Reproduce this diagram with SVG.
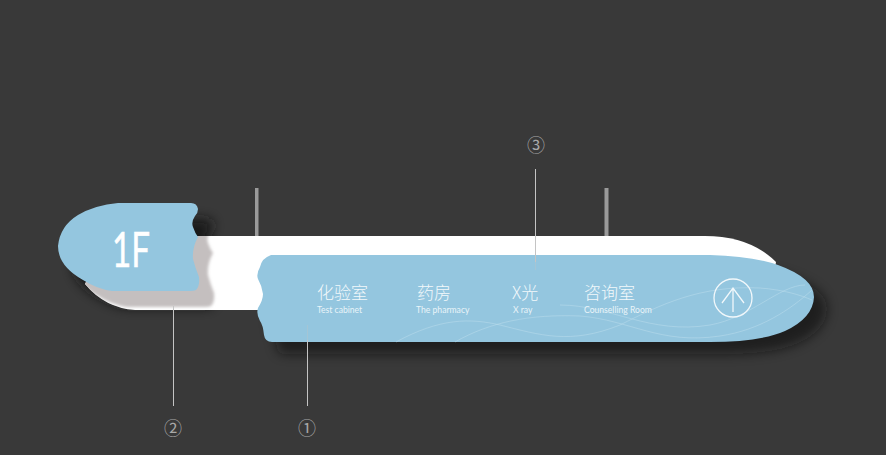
<svg xmlns="http://www.w3.org/2000/svg" width="886" height="455" viewBox="0 0 886 455">
<style>
.blue{fill:#94c6df}
.stem{fill:#9a9a9a}
.cn{font-family:"Noto Sans CJK SC","Noto Sans",sans-serif;font-size:17px;font-weight:300;fill:#f2f8fb}
.en{font-family:"Lato","Liberation Sans",sans-serif;font-size:8.6px;font-weight:400;fill:#e9f4f9}
.num{font-family:"Noto Sans CJK SC","DejaVu Sans",sans-serif;font-size:18px;fill:#a8a8a8;text-anchor:middle}
.lead{stroke:#c4c4c4;stroke-width:1;fill:none}
.wave{stroke:#c4e0ee;stroke-width:.8;fill:none;opacity:.55}
</style>
<defs>
<filter id="b6" x="-20%" y="-40%" width="140%" height="180%"><feGaussianBlur stdDeviation="6"/></filter>
<filter id="b2" x="-20%" y="-40%" width="140%" height="180%"><feGaussianBlur stdDeviation="1.800"/></filter>
<path id="tag" d="M118 203H191Q197 203 198 209Q198 213 195 216Q191 222 193 227Q195 233 198 237Q192 248 193 259Q195 267 199 277Q200 286 196 290Q194 291 188 291H112Q97 289 83 280Q58 266 58 246Q60 226 78 215Q95 205 118 203Z"/>
<path id="main" d="M271 255H710Q752 256 778 265Q814 278 814 297Q813 318 785 331Q760 342 710 342H272Q265 342 264 335Q263 325 260 321Q256 314 258 308Q263 300 263 294Q262 286 258 279Q256 274 260 267Q262 258 271 255Z"/>
<clipPath id="barclip"><path d="M135 236H705Q750 236 776 262V310H135Q105 308 85 284L110 236Z"/></clipPath>
</defs>
<rect width="886" height="455" fill="#393939"/>
<g id="posts"><rect class="stem" x="255" y="188" width="3.500" height="48"/><rect class="stem" x="604.500" y="188" width="4" height="48"/></g>
<g id="back-shadow"><use href="#main" x="13" y="12" fill="#111" filter="url(#b6)" opacity=".6"/><use href="#tag" x="15" y="16" fill="#151515" filter="url(#b6)" opacity=".9"/></g>
<g id="white-bar">
<path d="M135 236H705Q750 236 776 262L770 300L300 310H135Q105 308 85 284L110 236Z" fill="#fff"/>
<g clip-path="url(#barclip)"><use href="#tag" x="15" y="16" fill="#c4bfbf" filter="url(#b2)"/></g>
</g>
<g id="tag-1f">
<use href="#tag" class="blue"/>
<text x="112" y="267" font-family="Lato,'Liberation Sans',sans-serif" font-size="48" fill="#fff" stroke="#fff" stroke-width=".5" textLength="38" lengthAdjust="spacingAndGlyphs">1F</text>
</g>
<g id="main-sign">
<use href="#main" class="blue"/>
<path class="wave" d="M396 342C440 318 470 318 500 325C540 335 570 345 620 325C660 305 700 285 760 288C785 290 800 295 812 300"/>
<path class="wave" d="M455 342C490 322 530 314 580 316C630 320 660 345 720 336C760 330 790 310 812 290"/>
<path class="wave" d="M560 305C610 305 650 335 710 325C750 318 780 285 805 285"/>
<g id="item-test"><text class="cn" x="317" y="299">化验室</text><text class="en" x="317" y="313">Test cabinet</text></g>
<g id="item-pharmacy"><text class="cn" x="417" y="299">药房</text><text class="en" x="416" y="313">The pharmacy</text></g>
<g id="item-xray"><text class="cn" x="512" y="299">X光</text><text class="en" x="513" y="313">X ray</text></g>
<g id="item-counselling"><text class="cn" x="584" y="299">咨询室</text><text class="en" x="584" y="313">Counselling Room</text></g>
<g id="arrow-up" fill="none" stroke="#f2f8fb" stroke-width="1.300"><circle cx="733" cy="298" r="19"/><path d="M722 303L733 288L744 303M733 288V312"/></g>
</g>
<g id="connectors">
<path class="lead" d="M173.500 306V406"/>
<path class="lead" d="M307.500 340V406"/>
<path class="lead" d="M307.500 325V340" opacity=".35"/>
<path class="lead" d="M535.500 169V262"/>
<path class="lead" d="M535.500 262V270" opacity=".35"/>
</g>
<g id="callouts">
<text class="num" x="536" y="152">③</text>
<text class="num" x="173" y="435">②</text>
<text class="num" x="307" y="435">①</text>
</g>
</svg>
